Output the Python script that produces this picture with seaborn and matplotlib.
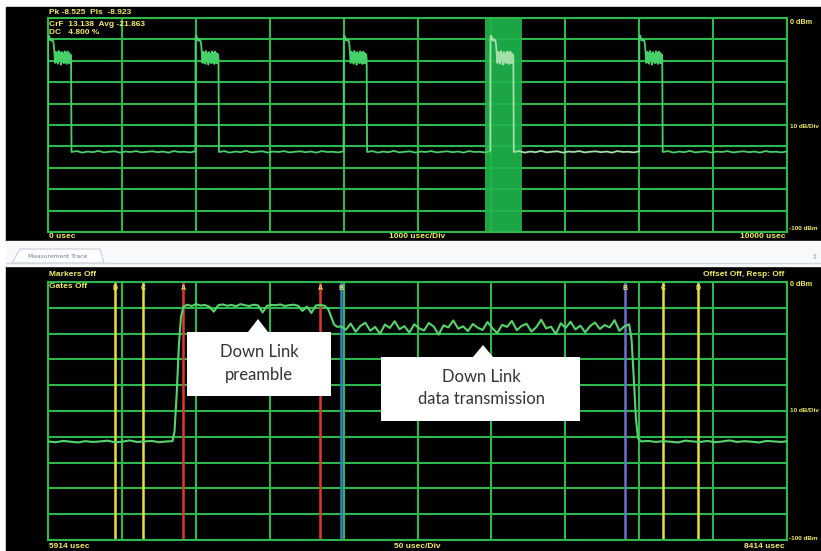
import numpy as np
import pandas as pd
import matplotlib.pyplot as plt
import seaborn as sns
from matplotlib.patches import Rectangle, Polygon

# ---- overview sweep: 0..10000 usec, dBm ----
TOP_PULSE_START = [0, 1995, 4000, 5985, 8000]
PULSE_OFFSET = [0, 2, 10, 20, 30, 40, 50, 60, 70, 78,
                85, 95, 105, 115, 125, 135, 145, 155, 165, 175, 185, 195,
                205, 215, 225, 235, 245, 255, 265, 275, 285, 295, 305,
                312, 318]
PULSE_DB = [-62, -9.5, -8.2, -9.0, -10.4, -9.8, -10.6, -10.1, -10.8, -12.5,
            -15.5, -21.0, -15.8, -20.6, -16.2, -21.4, -15.4, -20.2, -16.5, -21.8, -15.9, -20.5,
            -16.8, -21.1, -15.6, -20.8, -16.3, -21.5, -15.7, -20.9, -16.4, -21.2, -17.0,
            -19.0, -62]
TOP_RIPPLE = [-62.6, -62.2, -62.9, -62.4, -62.7, -62.1, -62.8, -62.5, -62.3, -62.9, -62.4, -62.6,
              -62.2, -62.8, -62.5, -62.3, -62.7, -62.4, -62.9, -62.2, -62.6, -62.5, -62.8, -62.3]
GATE_SPAN = [5914, 6414]

# ---- zoomed sweep: 5914..8414 usec ----
LEAD_T = [5914, 5940, 5965, 5990, 6015, 6040, 6065, 6090, 6115, 6140, 6165, 6190,
          6215, 6240, 6265, 6290, 6315, 6335, 6342, 6350, 6357, 6364, 6372]
LEAD_DB = [-61.8, -62.1, -61.6, -61.9, -62.2, -61.7, -62.0, -61.8, -61.5, -62.1, -61.9, -61.4,
           -62.0, -61.8, -61.6, -62.1, -61.8, -61.7, -58.0, -42.0, -24.0, -13.5, -9.6]
PREAMBLE_DB = [-8.8, -9.3, -8.6, -9.1, -8.9, -9.6, -11.5, -9.0, -8.7, -9.2, -8.9, -9.4,
               -8.6, -9.0, -9.3, -8.8, -9.1, -11.8, -9.2, -8.9, -9.0, -8.7, -9.3, -9.0,
               -8.8, -9.2, -11.2, -9.5, -12.0, -9.1, -8.9, -9.2]
STEP_T = [6862, 6872, 6882, 6892]
STEP_DB = [-10.5, -13.5, -16.5, -17.4]
DATA_DB = [-17.2, -18.5, -16.1, -19.3, -17.0, -15.8, -18.9, -17.4, -20.1, -16.5, -17.8, -15.2,
           -18.3, -17.1, -19.6, -16.4, -17.9, -18.8, -15.9, -17.3, -20.4, -16.8, -17.6, -14.9,
           -18.1, -17.2, -19.0, -16.3, -17.7, -18.6, -15.5, -17.9, -19.8, -16.6, -17.4, -15.1,
           -18.7, -17.0, -16.2, -19.2, -17.5, -14.6, -18.0, -17.3, -20.2, -16.0, -17.8, -15.4,
           -18.4, -16.9, -19.5, -17.1, -15.7, -18.2, -16.7, -17.6, -14.8, -18.9, -17.2, -16.4]
TAIL_T = [7888, 7896, 7903, 7910, 7920, 7945, 7970, 7995, 8020, 8045, 8070, 8095, 8120,
          8145, 8170, 8195, 8220, 8245, 8270, 8295, 8320, 8345, 8370, 8395, 8414]
TAIL_DB = [-22.0, -38.0, -53.0, -60.5, -61.8, -61.6, -62.0, -61.7, -61.9, -62.2, -61.5, -61.8,
           -62.0, -61.6, -62.1, -61.8, -61.4, -62.0, -61.7, -61.9, -62.2, -61.6, -61.8, -62.0, -61.7]

MARKER_T = [6141, 6235, 6371, 6834, 6905, 7866, 7994, 8113]
MARKER_NAME = ["D", "C", "A", "A", "B", "B", "C", "D"]
MARKER_COLOR = ["#e6df3c", "#e6df3c", "#e2372b", "#e2372b", "#3a7bd5", "#6f6fcf", "#e6df3c", "#e6df3c"]

W, H = 821, 551
GRID = "#2cb84a"
YEL = "#f3ec62"
TRACE = "#46d068"

sns.set_theme(style="dark", rc={"axes.facecolor": "black", "grid.color": GRID,
                                "grid.linewidth": 1.5, "axes.edgecolor": GRID,
                                "axes.linewidth": 1.5, "axes.grid": True})
plt.rcParams["font.family"] = ["Liberation Sans", "DejaVu Sans"]

fig = plt.figure(figsize=(W / 100, H / 100), dpi=100, facecolor="white")


def px_axes(x0, y0, x1, y1, **kw):
    return fig.add_axes([x0 / W, 1 - y1 / H, (x1 - x0) / W, (y1 - y0) / H], **kw)


# background layer (screen frames, tab strip)
bg = px_axes(0, 0, W, H, zorder=-5)
bg.set_xlim(0, W)
bg.set_ylim(H, 0)
bg.axis("off")
bg.add_patch(Rectangle((6, 7), W - 6, 234, color="black"))
bg.add_patch(Rectangle((6, 266), W - 6, H - 266, color="black"))
bg.add_patch(Rectangle((6, 241), W - 6, 25, color="#f8f9fb"))
bg.plot([6, W], [263, 263], color="#d3d9e0", lw=1)
bg.add_patch(Polygon([(12, 263), (20, 249), (100, 249), (104, 263)], closed=True,
                     facecolor="white", edgecolor="#c5ced8", lw=0.8))
bg.text(58, 257, "Measurement Trace", fontsize=4.3, color="#6f7a86", ha="center", va="center",
        family=["DejaVu Sans"])
bg.text(815, 257, "⇕", fontsize=5, color="#9aa3ad", ha="center", va="center", family=["DejaVu Sans"])


def style_scope(ax, xmin, xmax, step):
    ax.set_xlim(xmin, xmax)
    ax.set_ylim(-100, 0)
    ax.set_xticks(np.arange(xmin, xmax + 1, step))
    ax.set_yticks(np.arange(-100, 1, 10))
    ax.tick_params(labelbottom=False, labelleft=False, length=0)
    ax.set_xlabel("")
    ax.set_ylabel("")
    ax.set_facecolor("black")
    for s in ax.spines.values():
        s.set_color(GRID)
        s.set_linewidth(1.5)


# ---- top panel ----
ax1 = px_axes(48, 18, 787, 232)
rows = []
ends = TOP_PULSE_START[1:] + [10000]
for k, (s, e) in enumerate(zip(TOP_PULSE_START, ends)):
    for o, d in zip(PULSE_OFFSET, PULSE_DB):
        rows.append((s + o, d, k))
    for t, d in zip(np.linspace(s + PULSE_OFFSET[-1], e, len(TOP_RIPPLE)), TOP_RIPPLE):
        rows.append((t, d, k))
top = pd.DataFrame(rows, columns=["t", "db", "seg"])
ax1.axvspan(GATE_SPAN[0], GATE_SPAN[1], color="#1fb44c", alpha=0.92, zorder=1, lw=0)
sns.lineplot(data=top[top.seg != 3], x="t", y="db", units="seg", estimator=None, sort=False,
             color=TRACE, lw=1.3, ax=ax1, zorder=3)
sns.lineplot(data=top[top.seg == 3], x="t", y="db", estimator=None, sort=False,
             color="#a3dfa9", lw=1.3, ax=ax1, zorder=3)
style_scope(ax1, 0, 10000, 1000)

# ---- bottom panel ----
ax2 = px_axes(48, 282, 787, 540)
bt = (LEAD_T + list(np.linspace(6385, 6850, len(PREAMBLE_DB))) + STEP_T
      + list(np.linspace(6905, 7880, len(DATA_DB))) + TAIL_T)
bd = LEAD_DB + PREAMBLE_DB + STEP_DB + DATA_DB + TAIL_DB
bot = pd.DataFrame({"t": bt, "db": bd})
for t, c in zip(MARKER_T, MARKER_COLOR):
    ax2.axvline(t, color=c, lw=1.8, zorder=2)
sns.lineplot(data=bot, x="t", y="db", estimator=None, sort=False, color="#55d46c", lw=1.5,
             ax=ax2, zorder=3)
style_scope(ax2, 5914, 8414, 250)
for t, n in zip(MARKER_T, MARKER_NAME):
    ax2.text(t, 0.975, n, transform=ax2.get_xaxis_transform(), color=YEL, fontsize=5,
             fontweight="bold", ha="center", va="center")

# ---- overlay: screen annotations and callouts ----
ov = px_axes(0, 0, W, H, zorder=10)
ov.set_xlim(0, W)
ov.set_ylim(H, 0)
ov.axis("off")
ov.patch.set_alpha(0)

labels = [
    (49, 13, "Pk -8.525  Pls  -8.923", "left", 6),
    (49, 24, "CrF  13.138  Avg -21.863", "left", 6),
    (49, 33, "DC   4.800 %", "left", 6),
    (790, 22, "0 dBm", "left", 5.2),
    (790, 126, "10 dB/Div", "left", 4.6),
    (789, 228, "-100 dBm", "left", 4.6),
    (49, 237, "0 usec", "left", 6),
    (417, 237, "1000 usec/Div", "center", 6),
    (785, 237, "10000 usec", "right", 6),
    (49, 275, "Markers Off", "left", 6),
    (49, 286, "Gates Off", "left", 6),
    (784, 275, "Offset Off, Resp: Off", "right", 6),
    (790, 285, "0 dBm", "left", 5.2),
    (790, 411, "10 dB/Div", "left", 4.6),
    (789, 538, "-100 dBm", "left", 4.6),
    (49, 546, "5914 usec", "left", 6),
    (417, 546, "50 usec/Div", "center", 6),
    (785, 546, "8414 usec", "right", 6),
]
for x, y, s, ha, fs in labels:
    ov.text(x, y, s, color=YEL, fontsize=fs, fontweight="bold", ha=ha, va="center")

ov.add_patch(Polygon([(187, 332), (248, 332), (258, 319), (268, 332), (331, 332),
                      (331, 396), (187, 396)], closed=True, facecolor="white", lw=0))
ov.add_patch(Polygon([(381, 357), (473, 357), (483, 345), (493, 357), (580, 357),
                      (580, 421), (381, 421)], closed=True, facecolor="white", lw=0))
callout_font = dict(fontsize=12, color="#333333", ha="center", va="center", family=["Lato", "DejaVu Sans"])
ov.text(259, 352, "Down Link", **callout_font)
ov.text(259, 375, "preamble", **callout_font)
ov.text(481, 377, "Down Link", **callout_font)
ov.text(481, 399, "data transmission", **callout_font)

fig.savefig("out.png", dpi=100, facecolor="white")
